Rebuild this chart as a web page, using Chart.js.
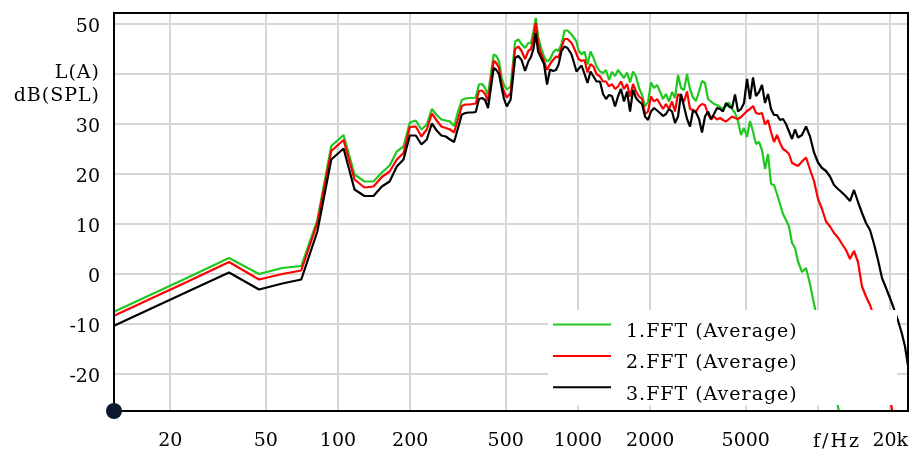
<!DOCTYPE html>
<html>
<head>
<meta charset="utf-8">
<script src="https://cdn.jsdelivr.net/npm/chart.js@4.4.1/dist/chart.umd.min.js"></script>
<style>
  html, body { margin: 0; padding: 0; background: #fff; }
  canvas { display: block; }
</style>
</head>
<body>
<canvas id="fftChart" width="914" height="450"></canvas>
<script>
// frequency points (Hz): FFT bins at the low end, thinner above 500 Hz
const freqHz = [
  11.72, 23.44, 35.16, 46.88, 58.59, 70.31, 82.03, 93.75, 105.5, 117.2,
  128.9, 140.6, 152.3, 164.1, 175.8, 187.5, 199.2, 210.9, 222.7, 234.4,
  246.1, 257.8, 269.5, 281.3, 293.0, 304.7, 316.4, 328.1, 339.8, 351.6,
  363.3, 375.0, 386.7, 398.4, 410.2, 421.9, 433.6, 445.3, 457.0, 468.8,
  481, 492, 505, 524, 547, 564, 582, 602, 621, 637,
  652, 667, 682, 701, 722, 743, 765, 787, 810, 830,
  854, 879, 905, 940, 963, 986, 1005, 1035, 1065, 1096,
  1128, 1161, 1195,
  1235, 1272, 1309, 1347, 1386, 1427, 1468, 1511, 1555, 1601,
  1648, 1696, 1745, 1796, 1849, 1903, 1958, 2015, 2074, 2135,
  2197, 2261, 2327, 2395, 2465, 2537, 2611, 2687, 2766, 2847,
  2930, 3015, 3103, 3194, 3287, 3383, 3482, 3584, 3689, 3796,
  3907, 4021, 4139, 4259, 4384, 4512, 4644, 4779, 4919, 5062,
  5210, 5362, 5519, 5680, 5846, 6017, 6192, 6373, 6559, 6751,
  6948, 7151, 7359, 7574, 7796, 8023, 8257,
  8580, 8916, 9265, 9627, 10004, 10395, 10802, 11224, 11663, 12120,
  12594, 13086, 13598, 14130, 14683, 15257, 15854, 16474, 17119, 17788,
  18484, 19207, 19958, 20739, 21550, 22393, 23047, 23720
];

// level in dB(SPL), A-weighted
const fft1 = [
  -7.5, -0.8, 3.2, 0.0, 1.2, 1.6, 10.8, 25.6, 27.8, 19.9,
  18.5, 18.5, 20.3, 21.7, 24.5, 25.5, 30.3, 30.7, 28.9, 29.9,
  33.0, 31.8, 30.9, 30.7, 30.5, 29.6, 32.5, 34.8, 35.1, 35.2,
  35.2, 35.3, 37.9, 38.0, 37.2, 35.8, 40.0, 43.9, 43.6, 42.5,
  39.2, 37.8, 36.9, 37.5, 46.5, 46.9, 46.0, 45.2, 46.2, 46.2,
  48.5, 51.2, 47.5, 45.3, 43.5, 42.5, 42.9, 44.3, 44.9, 44.6,
  46.0, 48.7, 48.7, 47.9, 47.2, 46.5, 44.7, 43.9, 44.5, 41.9,
  44.5, 43.2, 41.5,
  40.5, 40.2, 40.8, 38.8, 40.4, 39.6, 40.8, 40.0, 39.2, 40.3,
  38.3, 40.5, 39.5, 37.2, 35.8, 33.5, 34.4, 38.3, 37.2, 37.8,
  36.5, 35.0, 36.0, 34.5, 36.4, 35.2, 39.8, 37.2, 36.8, 40.0,
  36.9, 35.3, 34.6, 36.5, 38.6, 38.2, 35.0, 34.5, 34.0, 33.8,
  33.4, 33.0, 33.6, 34.3, 33.0, 32.2, 30.5, 27.8, 29.2, 27.4,
  30.6, 28.5, 26.0, 26.4, 24.8, 21.0, 24.0, 18.0, 17.8, 16.0,
  14.0, 12.0, 10.8, 9.5, 6.2, 5.2, 2.5,
  0.4, 1.2, -2.0, -6.0, -9.6, -13.0, -16.5, -19.8, -23.2, -26.6,
  -30.0, -33.4, null, null, null, null, null, null, null, null,
  null, null, null, null, null, null, null, null
];

const fft2 = [
  -8.3, -1.6, 2.4, -1.1, 0.0, 0.7, 10.2, 24.6, 26.8, 18.9,
  17.3, 17.5, 19.4, 20.5, 22.9, 24.2, 29.4, 29.5, 27.5, 28.9,
  32.1, 30.7, 29.5, 29.2, 28.9, 28.3, 31.0, 33.6, 33.9, 33.9,
  34.0, 34.1, 36.6, 36.7, 36.0, 34.6, 38.6, 42.6, 42.2, 41.2,
  38.0, 36.4, 35.3, 36.2, 45.0, 45.5, 44.6, 43.0, 44.6, 45.0,
  47.2, 50.2, 46.2, 44.2, 42.6, 40.8, 42.0, 42.8, 43.5, 43.3,
  45.3, 47.0, 47.0, 46.2, 45.2, 44.0, 43.0, 42.6, 42.8, 40.3,
  42.0, 41.5, 40.0,
  39.5, 38.5, 38.5, 37.5, 38.0, 37.0, 37.5, 38.5, 37.0, 38.0,
  35.5, 38.0, 36.5, 35.5, 35.0, 32.0, 32.5, 35.5, 34.5, 35.0,
  34.0, 33.0, 34.0, 33.0, 34.5, 32.5, 36.0, 35.5, 34.5, 36.5,
  33.0, 32.8, 32.5, 33.5, 34.0, 33.8, 32.0, 30.9, 31.5, 30.9,
  31.2, 30.8, 30.5, 31.0, 31.5, 31.2, 31.0, 31.4, 32.0, 32.6,
  33.0, 33.6, 32.2, 32.0, 32.2, 29.9, 30.8, 28.4, 26.4, 27.8,
  26.2, 25.0, 24.6, 24.0, 22.2, 21.9, 21.6,
  22.5, 23.3, 20.9, 18.6, 15.0, 13.0, 10.5, 9.5, 8.2, 7.3,
  6.0, 4.8, 3.0, 4.6, 2.4, -2.5, -4.5, -6.2, -8.5, -12.5,
  -16.5, -20.5, -25.0, -29.0, -33.0, null, null, null
];

const fft3 = [
  -10.3, -3.6, 0.3, -3.1, -1.9, -1.1, 8.5, 22.9, 25.1, 16.9,
  15.6, 15.6, 17.5, 18.5, 21.5, 22.9, 27.7, 27.7, 25.9, 26.9,
  30.1, 28.7, 27.7, 27.5, 26.9, 26.4, 29.2, 31.9, 32.2, 32.3,
  32.3, 32.4, 35.0, 35.2, 34.8, 33.2, 37.2, 41.2, 40.8, 40.0,
  37.2, 35.0, 33.5, 34.9, 43.2, 43.6, 42.8, 40.6, 42.5, 43.4,
  45.0, 48.2, 44.5, 43.3, 42.0, 37.9, 40.9, 40.6, 40.8, 41.9,
  44.6, 45.5, 45.2, 43.9, 42.2, 40.5, 41.0, 41.7, 40.0, 38.2,
  40.5, 39.5, 38.5,
  38.5, 36.0, 35.0, 35.8, 35.6, 33.5, 35.5, 37.0, 34.5, 36.5,
  32.5, 36.8, 35.2, 34.5, 34.0, 31.5, 30.8, 32.5, 33.2, 32.7,
  32.2, 31.6, 32.0, 33.0, 32.5, 30.2, 31.5, 36.0, 33.5, 31.0,
  29.5, 32.7, 32.3, 31.0, 28.3, 31.5, 32.5, 31.0, 32.0, 33.2,
  33.0, 32.5, 34.2, 33.5, 33.2, 35.9, 32.5, 33.0, 34.2, 39.0,
  35.0, 39.3, 35.6, 36.4, 37.8, 34.2, 36.0, 33.0, 31.8, 31.8,
  30.8, 31.0, 30.0, 28.5, 27.0, 28.9, 27.3,
  27.8, 29.5, 27.5, 24.3, 22.3, 21.2, 20.6, 19.5, 17.8, 17.0,
  16.3, 15.5, 14.6, 16.8, 14.4, 12.2, 10.2, 8.8, 6.0, 2.8,
  -0.8, -2.8, -4.8, -7.0, -9.3, -12.0, -14.5, -18.3
];

const seriesNames = ['1.FFT (Average)', '2.FFT (Average)', '3.FFT (Average)'];
const seriesColors = ['#1ec81e', '#ff0000', '#000000'];

const freqTicks = [20, 50, 100, 200, 500, 1000, 2000, 5000, 10000, 20000];
const freqLabels = ['20', '50', '100', '200', '500', '1000', '2000', '5000', '', '20k'];
const levelTicks = [-20, -10, 0, 10, 20, 30, 40, 50];

const FONT = '"DejaVu Serif", serif';
Chart.defaults.font.family = FONT;
Chart.defaults.font.size = 19;
Chart.defaults.color = '#000';

function toPoints(levels) {
  return freqHz.map((f, i) => ({ x: f, y: levels[i] }));
}

// keep the plot box fixed: drop the label overhang Chart.js reserves
function noOverhang(s) {
  s.paddingTop = 0;
  s.paddingBottom = 0;
  s.paddingLeft = 0;
  s.paddingRight = 0;
}

// legend box inside the plot, axis frame, origin dot and the unit labels
const decorations = {
  id: 'decorations',
  afterDatasetsDraw(chart) {
    const ctx = chart.ctx;
    ctx.save();
    ctx.fillStyle = '#fff';
    ctx.fillRect(548, 310, 349, 95);
    ctx.font = '19px ' + FONT;
    ctx.letterSpacing = '1px';
    ctx.textAlign = 'left';
    ctx.textBaseline = 'alphabetic';
    seriesNames.forEach((name, i) => {
      const y = 324.5 + i * 31.4;
      ctx.strokeStyle = seriesColors[i];
      ctx.lineWidth = 2;
      ctx.beginPath();
      ctx.moveTo(553, y);
      ctx.lineTo(611, y);
      ctx.stroke();
      ctx.fillStyle = '#000';
      ctx.fillText(name, 626, y + 12.5);
    });
    ctx.restore();
  },
  afterDraw(chart) {
    const ctx = chart.ctx;
    const a = chart.chartArea;
    ctx.save();
    ctx.strokeStyle = '#000';
    ctx.lineWidth = 2;
    ctx.strokeRect(a.left, a.top, a.right - a.left, a.bottom - a.top);

    ctx.fillStyle = '#0b1a2c';
    ctx.beginPath();
    ctx.arc(a.left, a.bottom, 8, 0, Math.PI * 2);
    ctx.fill();

    ctx.fillStyle = '#000';
    ctx.font = '19px ' + FONT;
    ctx.textBaseline = 'alphabetic';
    ctx.letterSpacing = '1px';
    ctx.textAlign = 'right';
    ctx.fillText('L(A)', 100, 78);
    ctx.fillText('dB(SPL)', 100, 101);
    ctx.letterSpacing = '2px';
    ctx.textAlign = 'center';
    ctx.fillText('f/Hz', 837, 446.5);
    ctx.restore();
  }
};

new Chart(document.getElementById('fftChart'), {
  type: 'line',
  data: {
    datasets: [fft1, fft2, fft3].map((levels, i) => ({
      label: seriesNames[i],
      data: toPoints(levels),
      borderColor: seriesColors[i],
      borderWidth: 2.2,
      borderJoinStyle: 'bevel',
      pointRadius: 0,
      tension: 0,
      spanGaps: false,
      order: 3 - i
    }))
  },
  options: {
    responsive: false,
    animation: false,
    events: [],
    layout: { padding: { top: 13, right: 6, left: 0, bottom: 0 } },
    plugins: {
      legend: { display: false },
      tooltip: { enabled: false }
    },
    scales: {
      x: {
        type: 'logarithmic',
        min: 11.66,
        max: 23720,
        afterBuildTicks: s => { s.ticks = freqTicks.map(v => ({ value: v })); },
        afterFit: s => { s.height = 39; noOverhang(s); },
        border: { display: false },
        grid: { color: '#d6d6d6', lineWidth: 2, drawTicks: false },
        ticks: {
          autoSkip: false,
          maxRotation: 0,
          padding: 19,
          callback: v => freqLabels[freqTicks.indexOf(v)]
        }
      },
      y: {
        type: 'linear',
        min: -27.4,
        max: 52.2,
        afterBuildTicks: s => { s.ticks = levelTicks.map(v => ({ value: v })); },
        afterFit: s => { s.width = 114; noOverhang(s); },
        border: { display: false },
        grid: { color: '#d6d6d6', lineWidth: 2, drawTicks: false },
        ticks: {
          padding: 14,
          labelOffset: 3,
          callback: v => (v === 40 ? '' : String(v))
        }
      }
    }
  },
  plugins: [decorations]
});
</script>
</body>
</html>
